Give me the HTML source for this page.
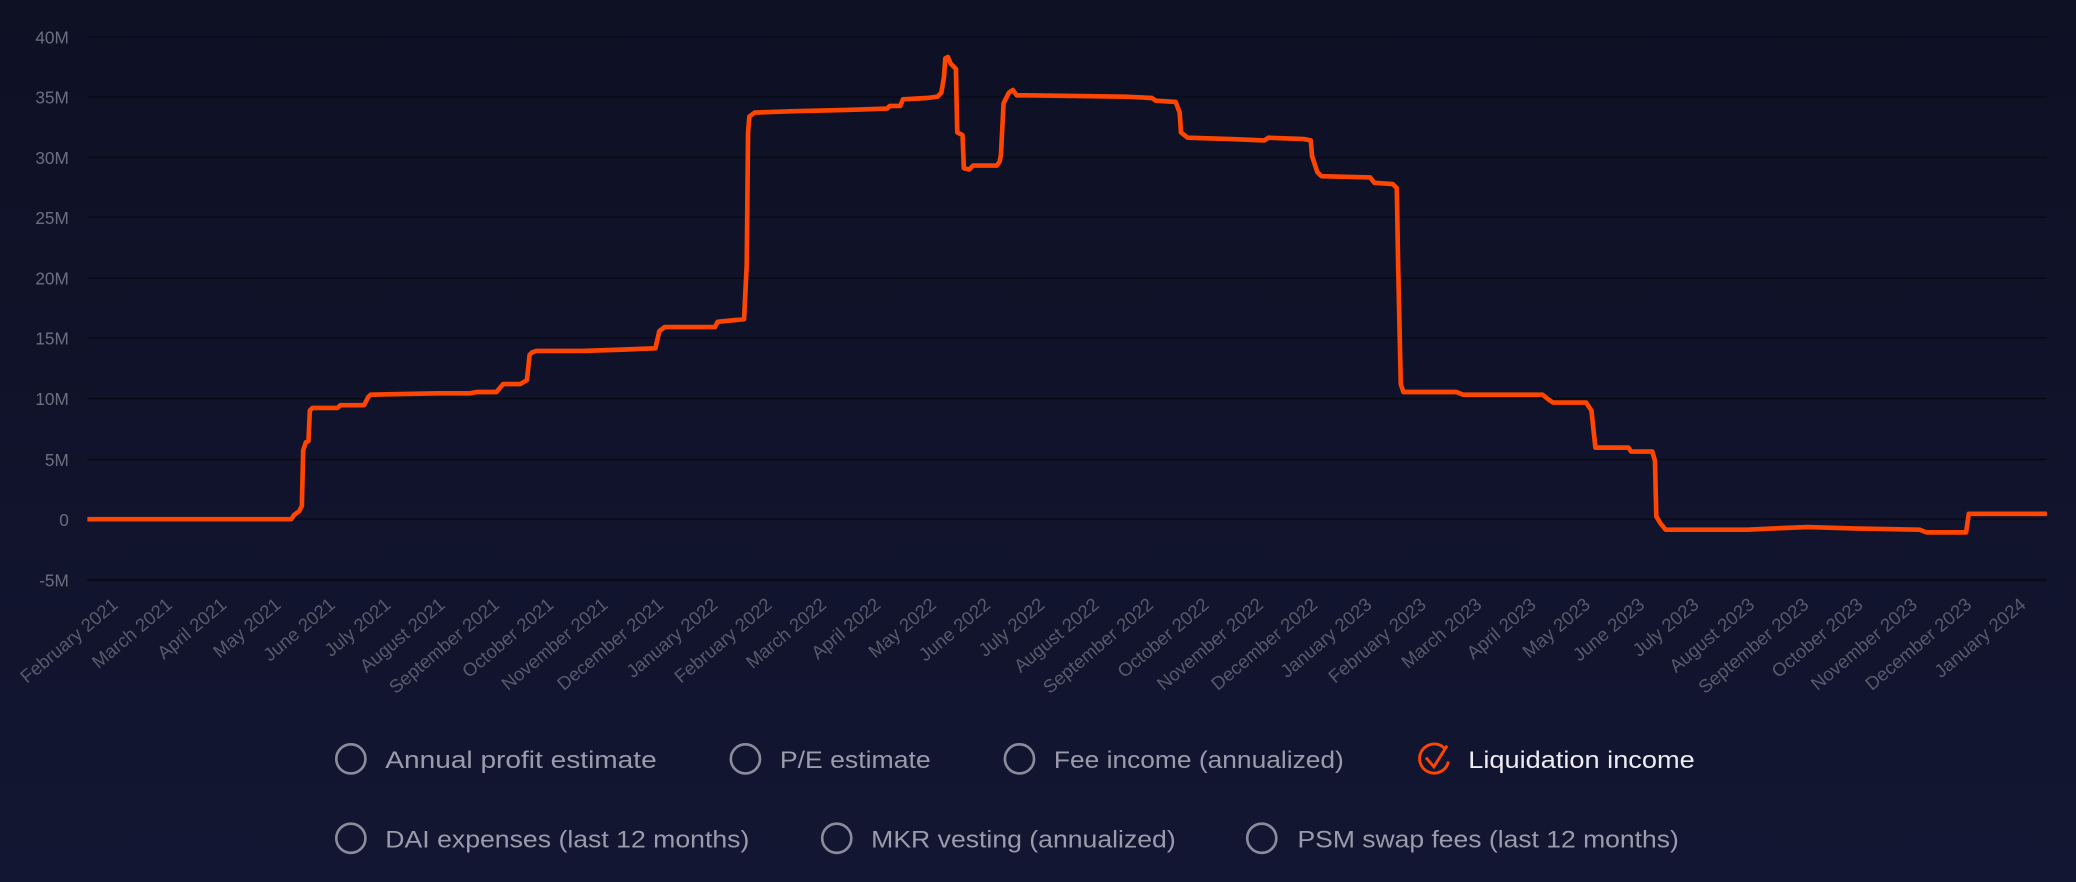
<!DOCTYPE html>
<html><head><meta charset="utf-8"><style>
html,body{margin:0;padding:0;background:#10122a;}
svg{display:block;}
text{font-family:"Liberation Sans","DejaVu Sans",sans-serif;}
</style></head><body>
<svg width="2076" height="882" viewBox="0 0 1568 666" preserveAspectRatio="none">
<defs><linearGradient id="bg" x1="0" y1="0" x2="0" y2="1"><stop offset="0" stop-color="#0e1024"/><stop offset="1" stop-color="#131632"/></linearGradient></defs>
<rect width="1568" height="666" fill="url(#bg)"/>
<g stroke="#0a0b19" stroke-width="1.3">
<line x1="66" x2="1546" y1="28" y2="28"/><line x1="66" x2="1546" y1="73" y2="73"/><line x1="66" x2="1546" y1="119" y2="119"/><line x1="66" x2="1546" y1="164" y2="164"/><line x1="66" x2="1546" y1="210" y2="210"/><line x1="66" x2="1546" y1="255" y2="255"/><line x1="66" x2="1546" y1="301" y2="301"/><line x1="66" x2="1546" y1="347" y2="347"/><line x1="66" x2="1546" y1="392" y2="392"/><line x1="66" x2="1546" y1="438" y2="438" stroke-width="2"/>
</g>
<g fill="#6d6f80" font-size="13" text-anchor="end">
<text x="52" y="33">40M</text><text x="52" y="78">35M</text><text x="52" y="124">30M</text><text x="52" y="169">25M</text><text x="52" y="215">20M</text><text x="52" y="260">15M</text><text x="52" y="306">10M</text><text x="52" y="352">5M</text><text x="52" y="397">0</text><text x="52" y="443">-5M</text>
</g>
<polyline fill="none" stroke="#ff4500" stroke-width="3.5" stroke-linejoin="round" points="66,392 220,392 222,389 226,386 228,382 229,340 231,334 233,333 234,310 236,308 255,308 257,306 275,306 278,300 280,298 330,297 355,297 360,296 375,296 380,290 393,290 398,287 400,268 402,266 405,265 440,265 470,264 495,263 498,250 502,247 540,247 542,243 562,241 564,200 565,100 566,88 570,85 600,84 640,83 670,82 672,80 680,80 682,75 700,74 708,73 711,70 713,58 714,44 716,43 718,48 722,52 723,100 727,102 728,127 732,128 735,125 753,125 755,122 756,117 758,78 762,70 765,68 768,72 775,72 850,73 870,74 873,76 888,77 891,85 892,100 897,104 930,105 955,106 958,104 985,105 990,106 991,118 995,130 998,133 1035,134 1038,138 1052,139 1055,142 1056,200 1058,290 1060,296 1100,296 1105,298 1165,298 1170,302 1173,304 1198,304 1202,310 1205,338 1230,338 1232,341 1248,341 1250,348 1251,390 1254,395 1258,400 1320,400 1340,399 1365,398 1400,399 1450,400 1455,402 1485,402 1487,388 1546,388"/>
<g font-size="18" fill="#9a9bab">
<circle cx="265" cy="573" r="11" fill="none" stroke="#8a8b9b" stroke-width="2"/><text x="291" y="580" textLength="205" lengthAdjust="spacingAndGlyphs">Annual profit estimate</text>
<circle cx="563" cy="573" r="11" fill="none" stroke="#8a8b9b" stroke-width="2"/><text x="589" y="580" textLength="114" lengthAdjust="spacingAndGlyphs">P/E estimate</text>
<circle cx="770" cy="573" r="11" fill="none" stroke="#8a8b9b" stroke-width="2"/><text x="796" y="580" textLength="219" lengthAdjust="spacingAndGlyphs">Fee income (annualized)</text>
<path d="M1091,565 A11,11 0 1 0 1094,575" fill="none" stroke="#ff4500" stroke-width="2.2"/><path d="M1077,572 L1083,579 L1093,563" fill="none" stroke="#ff4500" stroke-width="2.2"/><text x="1109" y="580" fill="#ececf2" textLength="171" lengthAdjust="spacingAndGlyphs">Liquidation income</text>
<circle cx="265" cy="633" r="11" fill="none" stroke="#8a8b9b" stroke-width="2"/><text x="291" y="640" textLength="275" lengthAdjust="spacingAndGlyphs">DAI expenses (last 12 months)</text>
<circle cx="632" cy="633" r="11" fill="none" stroke="#8a8b9b" stroke-width="2"/><text x="658" y="640" textLength="230" lengthAdjust="spacingAndGlyphs">MKR vesting (annualized)</text>
<circle cx="953" cy="633" r="11" fill="none" stroke="#8a8b9b" stroke-width="2"/><text x="980" y="640" textLength="288" lengthAdjust="spacingAndGlyphs">PSM swap fees (last 12 months)</text>
</g>
<g fill="#585a6c" font-size="14" text-anchor="end">
<text transform="translate(90,458) rotate(-40)">February 2021</text>
<text transform="translate(131,458) rotate(-40)">March 2021</text>
<text transform="translate(172,458) rotate(-40)">April 2021</text>
<text transform="translate(213,458) rotate(-40)">May 2021</text>
<text transform="translate(254,458) rotate(-40)">June 2021</text>
<text transform="translate(296,458) rotate(-40)">July 2021</text>
<text transform="translate(337,458) rotate(-40)">August 2021</text>
<text transform="translate(378,458) rotate(-40)">September 2021</text>
<text transform="translate(419,458) rotate(-40)">October 2021</text>
<text transform="translate(460,458) rotate(-40)">November 2021</text>
<text transform="translate(502,458) rotate(-40)">December 2021</text>
<text transform="translate(543,458) rotate(-40)">January 2022</text>
<text transform="translate(584,458) rotate(-40)">February 2022</text>
<text transform="translate(625,458) rotate(-40)">March 2022</text>
<text transform="translate(666,458) rotate(-40)">April 2022</text>
<text transform="translate(708,458) rotate(-40)">May 2022</text>
<text transform="translate(749,458) rotate(-40)">June 2022</text>
<text transform="translate(790,458) rotate(-40)">July 2022</text>
<text transform="translate(831,458) rotate(-40)">August 2022</text>
<text transform="translate(872,458) rotate(-40)">September 2022</text>
<text transform="translate(914,458) rotate(-40)">October 2022</text>
<text transform="translate(955,458) rotate(-40)">November 2022</text>
<text transform="translate(996,458) rotate(-40)">December 2022</text>
<text transform="translate(1037,458) rotate(-40)">January 2023</text>
<text transform="translate(1078,458) rotate(-40)">February 2023</text>
<text transform="translate(1120,458) rotate(-40)">March 2023</text>
<text transform="translate(1161,458) rotate(-40)">April 2023</text>
<text transform="translate(1202,458) rotate(-40)">May 2023</text>
<text transform="translate(1243,458) rotate(-40)">June 2023</text>
<text transform="translate(1284,458) rotate(-40)">July 2023</text>
<text transform="translate(1326,458) rotate(-40)">August 2023</text>
<text transform="translate(1367,458) rotate(-40)">September 2023</text>
<text transform="translate(1408,458) rotate(-40)">October 2023</text>
<text transform="translate(1449,458) rotate(-40)">November 2023</text>
<text transform="translate(1490,458) rotate(-40)">December 2023</text>
<text transform="translate(1531,458) rotate(-40)">January 2024</text>
</g>
</svg>
</body></html>
